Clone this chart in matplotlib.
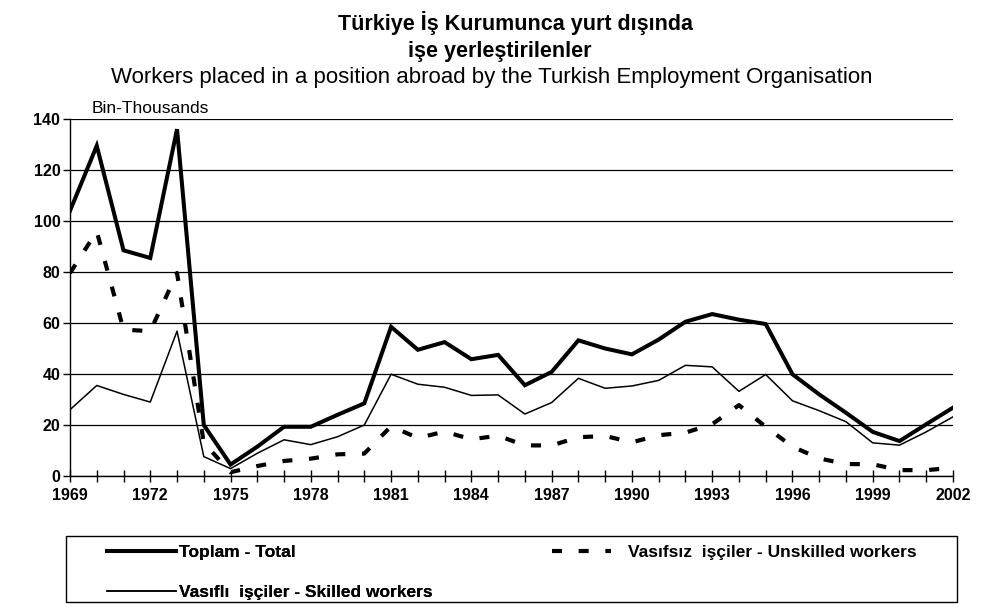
import matplotlib
matplotlib.use("Agg")
import matplotlib.pyplot as plt
from matplotlib.ticker import MultipleLocator
from matplotlib.patches import Rectangle

years = list(range(1969, 2003))
total = [104, 129.5, 88.5, 85.5, 136, 20, 4.5, 11.5, 19.3, 19.3, 24, 28.5,
         58.5, 49.5, 52.5, 45.8, 47.5, 35.6, 40.8, 53.2, 50, 47.7, 53.5, 60.5,
         63.5, 61.3, 59.6, 39.9, 32, 24.8, 17.3, 13.7, 20.3, 26.8]
skilled = [26, 35.5, 32, 29, 56.8, 7.6, 2.9, 8.9, 14.2, 12.3, 15.4, 20,
           39.9, 36, 34.8, 31.6, 31.8, 24.3, 28.8, 38.3, 34.4, 35.3, 37.5, 43.4,
           42.8, 33.2, 39.8, 29.5, 25.6, 21.3, 13, 12.1, 17.3, 23.2]
unskilled = [79.6, 95.9, 57.4, 56.8, 79.6, 13, 1.5, 3.9, 5.9, 6.8, 8.5, 8.8,
             19.5, 14.9, 17.4, 14.4, 15.8, 12, 12, 15.2, 15.7, 13.2, 16, 17,
             20.3, 27.8, 19.3, 11.5, 6.9, 4.7, 4.6, 2.3, 2.3, 3.2]
xtick_years = list(range(1969, 2003, 3))
yticks = list(range(0, 141, 20))

title1 = "Türkiye İş Kurumunca yurt dışında"
title2 = "işe yerleştirilenler"
subtitle = "Workers placed in a position abroad by the Turkish Employment Organisation"
unit_label = "Bin-Thousands"
lab_total = "Toplam - Total"
lab_unsk = "Vasıfsız  işçiler - Unskilled workers"
lab_sk = "Vasıflı  işçiler - Skilled workers"

plt.rcParams['font.family'] = ['Liberation Sans', 'DejaVu Sans']

W, H = 983, 608
fig = plt.figure(figsize=(W / 100, H / 100), dpi=100)
ax = fig.add_axes([70 / W, 1 - 476 / H, (953 - 70) / W, (476 - 119) / H])

l_total, = ax.plot(years, total, color='black', lw=2.9, solid_joinstyle='miter')
l_unsk, = ax.plot(years, unskilled, color='black', lw=3, linestyle=(0, (2.4, 4)))
l_sk, = ax.plot(years, skilled, color='black', lw=1.1)

ax.set_xlim(1969, 2002)
ax.set_ylim(0, 140)
ax.set_yticks(yticks)
ax.set_xticks(xtick_years)
ax.xaxis.set_minor_locator(MultipleLocator(1))
ax.grid(axis='y', color='black', lw=0.9)
ax.set_axisbelow(True)
for s in ['top', 'right']:
    ax.spines[s].set_visible(False)
ax.spines['left'].set_linewidth(1)
ax.spines['bottom'].set_linewidth(1)
ax.tick_params(axis='x', which='both', direction='inout', length=9, width=1, pad=4)
ax.tick_params(axis='y', direction='out', length=5, width=1, pad=2)
for lab in ax.get_xticklabels() + ax.get_yticklabels():
    lab.set_fontweight('bold')
    lab.set_fontsize(11.5)

fig.text(516 / W, 1 - 23 / H, title1, ha='center', va='center', fontsize=15.5, fontweight='bold')
fig.text(500 / W, 1 - 51 / H, title2, ha='center', va='center', fontsize=15.5, fontweight='bold')
fig.text(0.5, 1 - 77 / H, subtitle, ha='center', va='center', fontsize=16)
ax.text(1969.8, 141.2, unit_label, ha='left', va='bottom', fontsize=12.5)

prop = {'weight': 'bold', 'size': 12.5}
leg1 = fig.legend([l_total, l_sk], [lab_total, lab_sk], loc='upper left',
                  bbox_to_anchor=(107 / W, 1 - 545 / H), frameon=False,
                  handlelength=4.0, handletextpad=0.15, borderpad=0, borderaxespad=0,
                  prop=prop, labelspacing=1.45)
leg2 = fig.legend([l_unsk], [lab_unsk], loc='upper left',
                  bbox_to_anchor=(552 / W, 1 - 545 / H), frameon=False,
                  handlelength=3.4, handletextpad=1.0, borderpad=0, borderaxespad=0,
                  prop=prop)
fig.add_artist(leg1)
fig.patches.append(Rectangle((66 / W, 1 - 602 / H), (957 - 66) / W, (602 - 536) / H,
                             transform=fig.transFigure, fill=False, edgecolor='black',
                             lw=1, figure=fig))

fig.savefig("out.png", dpi=100)
